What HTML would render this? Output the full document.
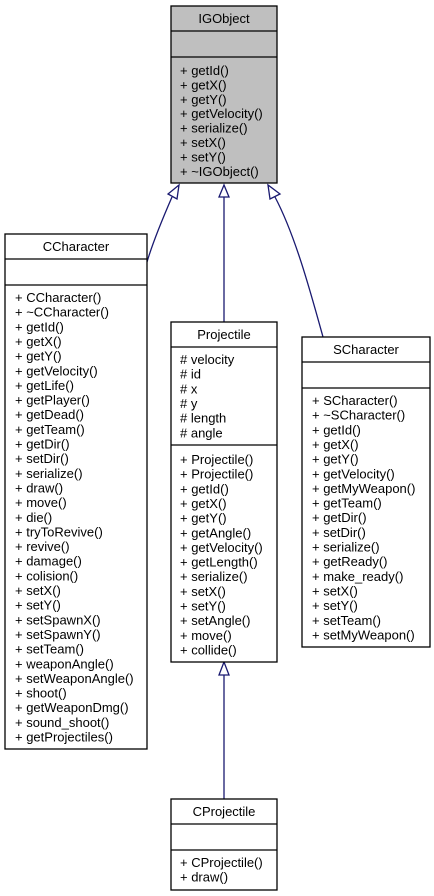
<!DOCTYPE html>
<html><head><meta charset="utf-8"><style>
html,body{margin:0;padding:0;background:#fff;}
svg{display:block;}
text{font-family:"Liberation Sans",Helvetica,sans-serif;font-size:13px;fill:#000;}
.b{fill:#fff;stroke:#000;stroke-width:1.3;}
.g{fill:#bfbfbf;stroke:#000;stroke-width:1.3;}
.e{fill:none;stroke:#191970;stroke-width:1.3;}
.a{fill:#fff;stroke:#191970;stroke-width:1.3;}
</style></head><body>
<svg width="434" height="896" viewBox="0 0 434 896" xmlns="http://www.w3.org/2000/svg">
<!-- edges -->
<path class="e" d="M172,197 C162,220 152,245 147,262"/>
<polygon class="a" points="179,185 168,194 177,199"/>
<path class="e" d="M224,197 L224,322"/>
<polygon class="a" points="224,185 219,197 229,197"/>
<path class="e" d="M275,197 C295,235 310,290 323,337"/>
<polygon class="a" points="268,185 270,199 280,194"/>
<path class="e" d="M224,675 L224,799"/>
<polygon class="a" points="224,662 219,675 229,675"/>

<!-- IGObject -->
<rect class="g" x="171" y="6" width="106" height="177"/>
<line class="g" x1="171" y1="31" x2="277" y2="31"/>
<line class="g" x1="171" y1="57" x2="277" y2="57"/>
<text x="224" y="23" text-anchor="middle">IGObject</text>
<g transform="translate(180,75)">
<text y="0">+ getId()</text><text y="14.4">+ getX()</text><text y="28.8">+ getY()</text><text y="43.2">+ getVelocity()</text><text y="57.6">+ serialize()</text><text y="72">+ setX()</text><text y="86.4">+ setY()</text><text y="100.8">+ ~IGObject()</text>
</g>

<!-- CCharacter -->
<rect class="b" x="5" y="234" width="142" height="515"/>
<line class="b" x1="5" y1="259" x2="147" y2="259"/>
<line class="b" x1="5" y1="285" x2="147" y2="285"/>
<text x="76" y="251" text-anchor="middle">CCharacter</text>
<g transform="translate(15,302)">
<text y="0">+ CCharacter()</text><text y="14.65">+ ~CCharacter()</text><text y="29.3">+ getId()</text><text y="43.95">+ getX()</text><text y="58.6">+ getY()</text><text y="73.25">+ getVelocity()</text><text y="87.9">+ getLife()</text><text y="102.55">+ getPlayer()</text><text y="117.2">+ getDead()</text><text y="131.85">+ getTeam()</text><text y="146.5">+ getDir()</text><text y="161.15">+ setDir()</text><text y="175.8">+ serialize()</text><text y="190.45">+ draw()</text><text y="205.1">+ move()</text><text y="219.75">+ die()</text><text y="234.4">+ tryToRevive()</text><text y="249.05">+ revive()</text><text y="263.7">+ damage()</text><text y="278.35">+ colision()</text><text y="293">+ setX()</text><text y="307.65">+ setY()</text><text y="322.3">+ setSpawnX()</text><text y="336.95">+ setSpawnY()</text><text y="351.6">+ setTeam()</text><text y="366.25">+ weaponAngle()</text><text y="380.9">+ setWeaponAngle()</text><text y="395.55">+ shoot()</text><text y="410.2">+ getWeaponDmg()</text><text y="424.85">+ sound_shoot()</text><text y="439.5">+ getProjectiles()</text>
</g>

<!-- Projectile -->
<rect class="b" x="171" y="322" width="106" height="340"/>
<line class="b" x1="171" y1="347" x2="277" y2="347"/>
<line class="b" x1="171" y1="445" x2="277" y2="445"/>
<text x="224" y="339" text-anchor="middle">Projectile</text>
<g transform="translate(180,364)">
<text y="0"># velocity</text><text y="14.65"># id</text><text y="29.3"># x</text><text y="43.95"># y</text><text y="58.6"># length</text><text y="73.25"># angle</text>
</g>
<g transform="translate(180,464)">
<text y="0">+ Projectile()</text><text y="14.65">+ Projectile()</text><text y="29.3">+ getId()</text><text y="43.95">+ getX()</text><text y="58.6">+ getY()</text><text y="73.25">+ getAngle()</text><text y="87.9">+ getVelocity()</text><text y="102.55">+ getLength()</text><text y="117.2">+ serialize()</text><text y="131.85">+ setX()</text><text y="146.5">+ setY()</text><text y="161.15">+ setAngle()</text><text y="175.8">+ move()</text><text y="190.45">+ collide()</text>
</g>

<!-- SCharacter -->
<rect class="b" x="302" y="337" width="128" height="310"/>
<line class="b" x1="302" y1="362" x2="430" y2="362"/>
<line class="b" x1="302" y1="388" x2="430" y2="388"/>
<text x="366" y="354" text-anchor="middle">SCharacter</text>
<g transform="translate(312,405)">
<text y="0">+ SCharacter()</text><text y="14.65">+ ~SCharacter()</text><text y="29.3">+ getId()</text><text y="43.95">+ getX()</text><text y="58.6">+ getY()</text><text y="73.25">+ getVelocity()</text><text y="87.9">+ getMyWeapon()</text><text y="102.55">+ getTeam()</text><text y="117.2">+ getDir()</text><text y="131.85">+ setDir()</text><text y="146.5">+ serialize()</text><text y="161.15">+ getReady()</text><text y="175.8">+ make_ready()</text><text y="190.45">+ setX()</text><text y="205.1">+ setY()</text><text y="219.75">+ setTeam()</text><text y="234.4">+ setMyWeapon()</text>
</g>

<!-- CProjectile -->
<rect class="b" x="171" y="799" width="106" height="91"/>
<line class="b" x1="171" y1="824" x2="277" y2="824"/>
<line class="b" x1="171" y1="850" x2="277" y2="850"/>
<text x="224" y="816" text-anchor="middle">CProjectile</text>
<g transform="translate(180,867)">
<text y="0">+ CProjectile()</text><text y="14.65">+ draw()</text>
</g>
</svg>
</body></html>
